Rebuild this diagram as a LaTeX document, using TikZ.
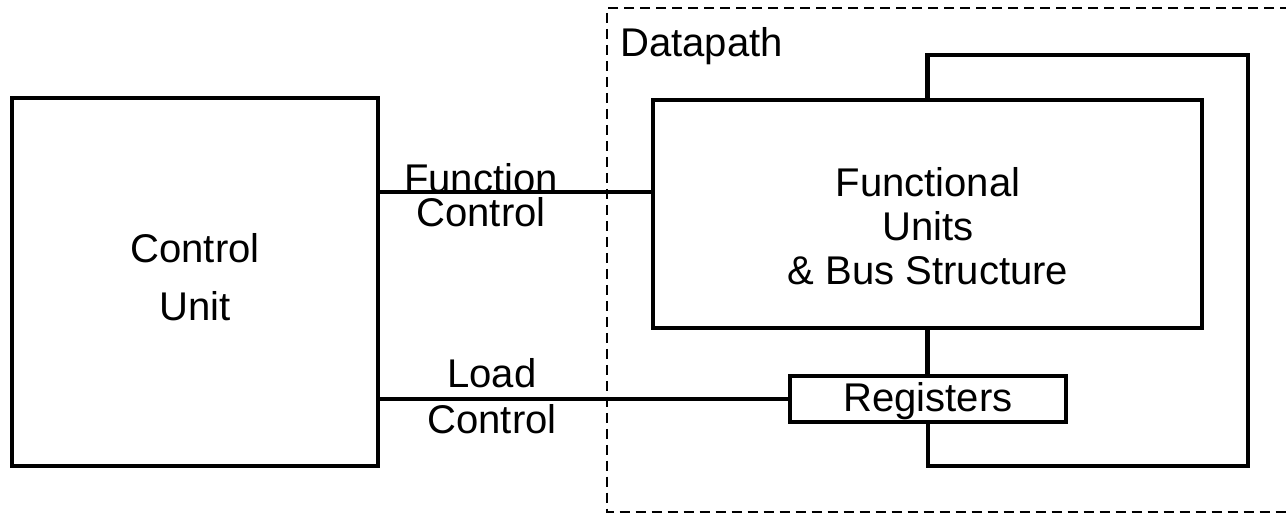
\documentclass[tikz,border=0pt]{standalone}
\usepackage{fontspec}
\setmainfont{Liberation Sans}
\begin{document}
\begin{tikzpicture}[x=0.02cm, y=-0.02cm,
  box/.style={draw, line width=2.3pt, rectangle, inner sep=0pt},
  wire/.style={line width=2.3pt},
  txt/.style={inner sep=0pt, anchor=base, font=\fontsize{22.8}{27}\selectfont},
  boundary/.style={line width=1.1pt, dash pattern=on 0.2cm off 0.12cm}]
\useasboundingbox (0,0) rectangle (1286,514);

% main blocks
\node[box, minimum width=7.32cm, minimum height=7.36cm] (cu) at (195,282) {};
\node[box, minimum width=10.98cm, minimum height=4.56cm] (fu) at (927.5,214) {};
\node[box, minimum width=5.52cm, minimum height=0.92cm] (reg) at (928,399) {};

% block texts
\node[txt] (cuA) at (195,262) {Control};
\node[txt] (cuB) at (195,320) {Unit};
\node[txt] (fuA) at (928,196) {Functional};
\node[txt] (fuB) at (928,240) {Units};
\node[txt] (fuC) at (928,284) {\& Bus Structure};
\node[txt] (regT) at (928,411) {Registers};

% datapath boundary
\coordinate (dpTL) at (607,8);
\coordinate (dpBL) at (607,512);
\draw[boundary] (1290,8) -- (dpTL) -- (dpBL) -- (1290,512);
\node[txt, anchor=base west] (dp) at (620,56) {Datapath};

% control signals
\coordinate (fcY) at (0,192);
\draw[wire] (cu.east |- fcY) -- (fu.west |- fcY);
\node[txt] (fcA) at (481,192) {Function};
\node[txt] (fcB) at (481,226) {Control};

\draw[wire] (cu.east |- reg.west) -- (reg.west);
\node[txt] (lcA) at (492,387) {Load};
\node[txt] (lcB) at (492,433) {Control};

% register feedback loop
\coordinate (loopTop) at (1248,55);
\coordinate (loopBot) at (1248,466);
\draw[wire] (fu.south) -- (fu.south |- reg.north);
\draw[wire, line join=miter] (fu.north) -- (fu.north |- loopTop) -- (loopTop)
  -- (loopBot) -- (reg.south |- loopBot) -- (reg.south);
\end{tikzpicture}
\end{document}
